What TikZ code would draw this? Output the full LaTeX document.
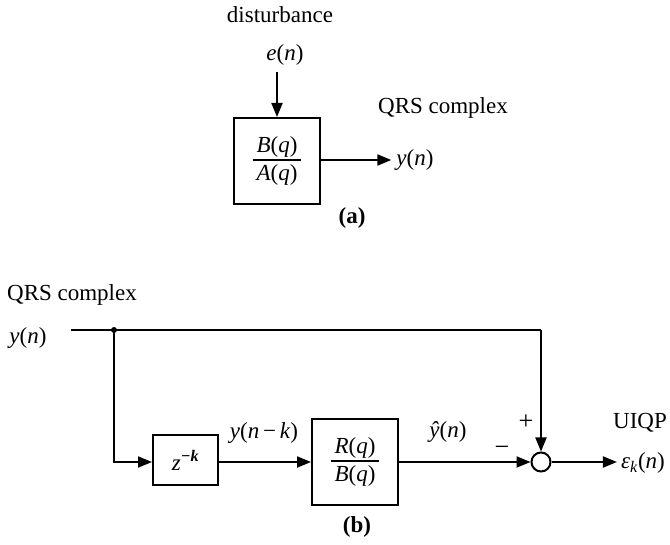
\documentclass[tikz,border=0pt]{standalone}
\usepackage{fontspec}
\setmainfont{Liberation Serif}
\usetikzlibrary{arrows.meta}
\newcommand{\myfrac}[2]{\begin{tabular}{@{\,}c@{\,}}\rule[-5pt]{0pt}{19pt}#1\\[-1pt]\noalign{\hrule height 1.3pt}\rule{0pt}{20pt}#2\end{tabular}}
\begin{document}
\begin{tikzpicture}[x=1pt,y=-1pt,
  every node/.style={font=\fontsize{23}{27}\selectfont, inner sep=2pt},
  blockbox/.style={draw, line width=2pt, inner sep=0pt},
  wire/.style={line width=2pt},
  arr/.style={wire, -{Triangle[length=14pt,width=11pt]}},
  sumnode/.style={draw, circle, line width=2pt, minimum size=19pt, inner sep=0pt},
  capt/.style={font=\fontsize{23}{27}\selectfont\bfseries}]
\useasboundingbox (0,0) rectangle (670,545);
% ---------- (a) ----------
\node (dist) at (280,15) {disturbance};
\node (en) at (285,55) {\textit{e}(\textit{n})};
\coordinate (etop) at (277,72);
\node[blockbox, minimum width=86pt, minimum height=86pt] (boxA) at (277,161)
  {\myfrac{\textit{B}(\textit{q})}{\textit{A}(\textit{q})}};
\node (qrsA) at (443,108) {QRS complex};
\node[inner sep=5pt] (yA) at (415,160) {\textit{y}(\textit{n})};
\node[capt] (capA) at (352,218) {(a)};
\draw[arr] (etop) -- (boxA.north);
\draw[arr] (boxA.east |- yA.west) -- (yA.west);
% ---------- (b) ----------
\node (qrsB) at (72,295) {QRS complex};
\node (yB) at (28,338) {\textit{y}(\textit{n})};
\coordinate (start) at (71,330);
\coordinate (split) at (114,330);
\coordinate (corner) at (114,462);
\coordinate (topright) at (541,330);
\node[blockbox, minimum width=65pt, minimum height=50pt] (zbox) at (185.5,460)
  {\textit{z}\textsuperscript{\textbf{\textit{−k}}}};
\node[blockbox, minimum width=86pt, minimum height=85pt] (Rbox) at (355,462)
  {\myfrac{\textit{R}(\textit{q})}{\textit{B}(\textit{q})}};
\node[sumnode] (sum) at (541,462) {};
\node[inner sep=4pt] (eps) at (643,463) {\textit{ε}\textsubscript{\textit{k}}(\textit{n})};
\node (uiqp) at (640,423) {UIQP};
\node[font=\fontsize{26}{30}\selectfont] (plus) at (526,422) {+};
\node[font=\fontsize{26}{30}\selectfont] (minus) at (502,451) {−};
\node (yhat) at (448,432) {\textit{ŷ}(\textit{n})};
\node (ynk) at (264,433) {\textit{y}(\textit{n}\,−\,\textit{k})};
\node[capt] (capB) at (357,527) {(b)};
\fill (split) circle (3pt);
\draw[wire] (start) -- (split) -- (topright);
\draw[arr] (topright) -- (sum.north);
\draw[arr] (split) -- (corner) -- (zbox.west |- corner);
\draw[arr] (zbox.east |- corner) -- (Rbox.west |- corner);
\draw[arr] (Rbox.east) -- (sum.west);
\draw[arr] (sum.east) -- (eps.west |- sum.east);
\end{tikzpicture}
\end{document}
